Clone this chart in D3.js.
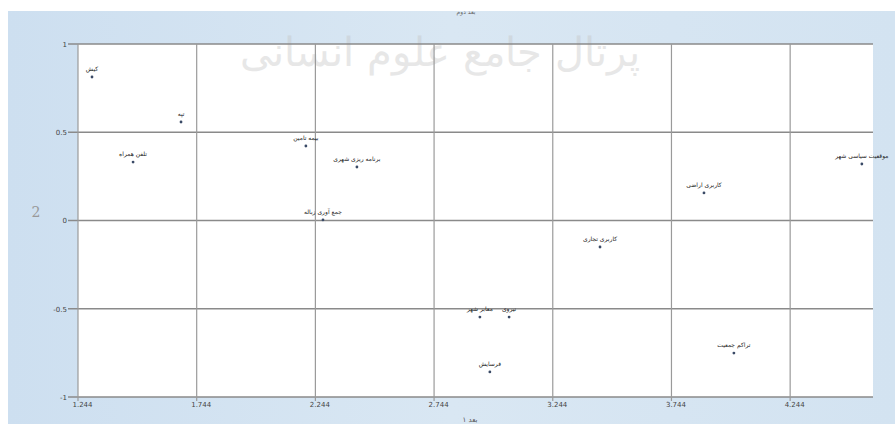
<!DOCTYPE html>
<html>
<head>
<meta charset="utf-8">
<script src="https://cdn.jsdelivr.net/npm/d3@7"></script>
<style>
body { margin: 0; background: #fff; }
svg { display: block; }
</style>
</head>
<body>
<svg></svg>
<script>
// point labels and coordinates (dimension 1, dimension 2)
var labels = ["کیش", "تپه", "تلفن همراه", "بیمه تامین", "برنامه ریزی شهری", "جمع آوری زباله",
	"کاربری تجاری", "کاربری اراضی", "موقعیت سیاسی شهر", "تراکم جمعیت", "معابر شهر", "نیروی", "فرسایش"];
var dim1 = [1.303, 1.678, 1.476, 2.204, 2.419, 2.276, 3.443, 3.881, 4.546, 4.007, 2.937, 3.060, 2.979];
var dim2 = [0.813, 0.558, 0.331, 0.422, 0.303, 0.003, -0.150, 0.156, 0.320, -0.751, -0.547, -0.547, -0.858];
var xTicks = [1.244, 1.744, 2.244, 2.744, 3.244, 3.744, 4.244];
var yTicks = [-1, -0.5, 0, 0.5, 1];

var width = 895, height = 424;
var svg = d3.select("svg").attr("width", width).attr("height", height);

var defs = svg.append("defs");
var grad = defs.append("linearGradient").attr("id", "bg").attr("x1", 0).attr("x2", 1).attr("y1", 0).attr("y2", 0);
grad.append("stop").attr("offset", "0%").attr("stop-color", "#cddff0");
grad.append("stop").attr("offset", "50%").attr("stop-color", "#d9e7f3");
grad.append("stop").attr("offset", "100%").attr("stop-color", "#d3e3f1");

svg.append("rect").attr("x", 8).attr("y", 11).attr("width", width - 8).attr("height", height - 11).attr("fill", "url(#bg)");

var x = d3.scaleLinear().domain([1.244, 4.593]).range([78, 873]);
var y = d3.scaleLinear().domain([-1, 1]).range([397, 44]);

svg.append("rect").attr("x", x.range()[0]).attr("y", y(1)).attr("width", x.range()[1] - x.range()[0])
	.attr("height", y(-1) - y(1)).attr("fill", "#fff");

// watermark
svg.append("text").attr("x", 440).attr("y", 66).attr("text-anchor", "middle")
	.attr("font-family", "DejaVu Serif").attr("font-size", 40).attr("fill", "#c4c4c4").attr("opacity", 0.4)
	.text("پرتال جامع علوم انسانی");

// grid
svg.append("g").selectAll("line").data(yTicks).enter().append("line")
	.attr("x1", 68).attr("x2", x.range()[1]).attr("y1", function(d){return y(d)}).attr("y2", function(d){return y(d)})
	.attr("stroke", "#8a8a8a").attr("stroke-width", 1.5);
svg.append("g").selectAll("line").data(xTicks).enter().append("line")
	.attr("x1", function(d){return x(d)}).attr("x2", function(d){return x(d)}).attr("y1", y(1)).attr("y2", y(-1) + 4)
	.attr("stroke", "#9a9a9a").attr("stroke-width", 1.2);

// axes labels
var yAxis = d3.axisLeft(y).tickValues(yTicks).tickSize(0).tickPadding(0).tickFormat(function(d){return d3.format("")(d).replace("−", "-")});
var gy = svg.append("g").attr("transform", "translate(67,0)").call(yAxis);
gy.select(".domain").remove();
gy.selectAll("text").attr("font-family", "DejaVu Sans").attr("font-size", 7).attr("fill", "#444");

var xAxis = d3.axisBottom(x).tickValues(xTicks).tickSize(0).tickPadding(0).tickFormat(d3.format(".3f"));
var gx = svg.append("g").attr("transform", "translate(4," + (y(-1) + 5) + ")").call(xAxis);
gx.select(".domain").remove();
gx.selectAll("text").attr("font-family", "DejaVu Sans").attr("font-size", 7).attr("fill", "#444");

svg.append("text").attr("x", 36).attr("y", 217).attr("text-anchor", "middle")
	.attr("font-family", "DejaVu Serif").attr("font-size", 14).attr("fill", "#999").text("2");
svg.append("text").attr("x", 470).attr("y", 422).attr("text-anchor", "middle")
	.attr("font-family", "DejaVu Sans").attr("font-size", 7).attr("fill", "#555").text("بعد ۱");
svg.append("text").attr("x", 466).attr("y", 14).attr("text-anchor", "middle")
	.attr("font-family", "DejaVu Sans").attr("font-size", 6).attr("fill", "#666").text("بعد دوم");

// points
var pts = labels.map(function(l, i){return {label: l, a: dim1[i], b: dim2[i]}});
var g = svg.append("g");
g.selectAll("circle").data(pts).enter().append("circle")
	.attr("cx", function(d){return x(d.a)}).attr("cy", function(d){return y(d.b)})
	.attr("r", 1.4).attr("fill", "#3a4a66");
g.selectAll("text").data(pts).enter().append("text")
	.attr("x", function(d){return x(d.a)}).attr("y", function(d){return y(d.b) - 6})
	.attr("text-anchor", "middle").attr("font-family", "DejaVu Sans").attr("font-size", 6).attr("fill", "#222")
	.text(function(d){return d.label});
</script>
</body>
</html>
